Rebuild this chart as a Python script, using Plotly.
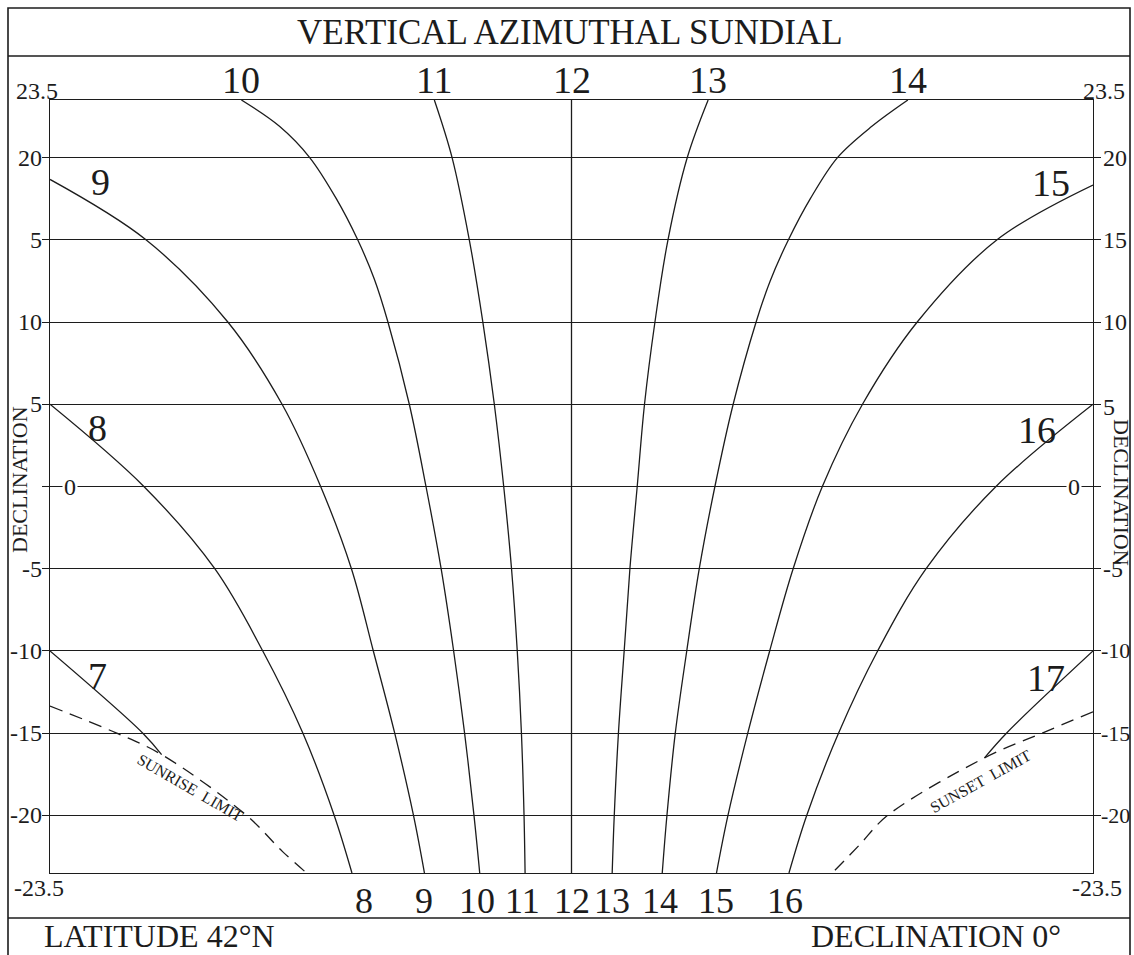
import plotly.graph_objects as go

# ---------------- data ----------------
# horizontal position on the dial: noon line = 0, dial edges = -100 / 100
# declination in degrees
H10_DECL = [23.5, 21.9, 20, 17.5, 15, 12.6, 10, 5, 0, -5, -10, -15, -20, -23.5]
H10_X = [-63.3, -56.0, -50.2, -45.1, -41.0, -37.8, -35.2, -31.1, -27.9, -25.0, -22.6, -20.5, -18.7, -17.6]
H14_DECL = [23.5, 21.9, 20, 17.5, 15, 12.5, 10, 5, 0, -5, -10, -15, -20, -23.5]
H14_X = [64.5, 57.6, 51.0, 45.8, 41.6, 38.1, 35.4, 31.0, 27.5, 24.5, 22.1, 19.9, 18.3, 17.4]

DECL_FULL = [23.5, 20, 15, 10, 5, 0, -5, -10, -15, -20, -23.5]
H11_X = [-26.3, -22.9, -19.6, -17.0, -14.8, -13.0, -11.5, -10.4, -9.6, -9.1, -8.9]
H12_X = [0, 0, 0, 0, 0, 0, 0, 0, 0, 0, 0]
H13_X = [26.2, 22.2, 18.5, 16.0, 14.0, 12.6, 11.2, 10.1, 9.0, 8.2, 7.8]

H9_DECL = [18.67, 15, 10, 5, 0, -5, -10, -15, -20, -23.5]
H9_X = [-100, -81.6, -65.9, -55.5, -48.1, -42.2, -38.0, -33.9, -30.3, -28.2]
H15_DECL = [18.33, 15, 10, 5, 0, -5, -10, -15, -20, -23.5]
H15_X = [100, 81.6, 66.3, 55.8, 48.1, 42.5, 38.0, 33.8, 30.0, 27.8]

H8_DECL = [5, 0, -5, -10, -15, -20, -23.5]
H8_X = [-100, -82.0, -68.4, -59.2, -51.5, -45.5, -42.1]
H16_DECL = [5, 0, -5, -10, -15, -20, -23.5]
H16_X = [100, 81.4, 68.0, 58.7, 51.2, 45.1, 41.7]

H7_DECL = [-10, -15, -16.3]
H7_X = [-100, -82.2, -78.6]
H17_DECL = [-10, -15, -16.5]
H17_X = [100, 83.4, 79.2]

SUNRISE_DECL = [-13.35, -15, -16.3, -20, -22.2, -23.5]
SUNRISE_X = [-100, -87.2, -78.6, -62.3, -55.4, -50.8]
SUNSET_DECL = [-13.7, -15, -16.5, -20, -21.8, -23.5]
SUNSET_X = [100, 90.2, 79.2, 60.6, 55.2, 50.0]

GRID_DECL = [20, 15, 10, 5, 0, -5, -10, -15, -20]

TOP_HOURS = ["10", "11", "12", "13", "14"]
BOTTOM_HOURS = ["8", "9", "10", "11", "12", "13", "14", "15", "16"]

LEFT_TICKS = ["23.5", "20", "5", "10", "5", "0", "-5", "-10", "-15", "-20", "-23.5"]
RIGHT_TICKS = ["23.5", "20", "15", "10", "5", "0", "-5", "-10", "-15", "-20", "-23.5"]
TICK_DECL = [23.5, 20, 15, 10, 5, 0, -5, -10, -15, -20, -23.5]

TITLE = "VERTICAL AZIMUTHAL SUNDIAL"
FOOT_LEFT = "LATITUDE 42°N"
FOOT_RIGHT = "DECLINATION 0°"

# ---------------- layout geometry ----------------
W, H = 1134, 955
PL, PR, PT, PB = 50, 1093, 100, 873   # plot area in pixels
INK = "#1c1c1c"
FONT = "Liberation Serif"


def fx(px):
    return (px - PL) / (PR - PL)


def fy(py):
    return (PB - py) / (PB - PT)


def txt(text, px, py, size, xanchor="center", **kw):
    d = dict(text=text, xref="paper", yref="paper", x=fx(px), y=fy(py),
             xanchor=xanchor, yanchor="middle", showarrow=False,
             font=dict(family=FONT, size=size, color=INK))
    d.update(kw)
    return d


fig = go.Figure()

lines = [
    (H10_X, H10_DECL), (H11_X, DECL_FULL), (H12_X, DECL_FULL),
    (H13_X, DECL_FULL), (H14_X, H14_DECL),
    (H9_X, H9_DECL), (H15_X, H15_DECL),
    (H8_X, H8_DECL), (H16_X, H16_DECL),
    (H7_X, H7_DECL), (H17_X, H17_DECL),
]
for xs, ys in lines:
    fig.add_trace(go.Scatter(
        x=xs, y=ys, mode="lines",
        line=dict(color=INK, width=1.3, shape="spline", smoothing=1.0),
        hoverinfo="skip", showlegend=False))

for xs, ys in [(SUNRISE_X, SUNRISE_DECL), (SUNSET_X, SUNSET_DECL)]:
    fig.add_trace(go.Scatter(
        x=xs, y=ys, mode="lines",
        line=dict(color=INK, width=1.3, shape="spline", smoothing=1.0,
                  dash="13px,8px"),
        hoverinfo="skip", showlegend=False))

ann = []

# title and footer
ann.append(txt(TITLE, 570, 33, 35))
ann.append(txt(FOOT_LEFT, 42, 936, 32, xanchor="left"))
ann.append(txt(FOOT_RIGHT, 1063, 936, 32, xanchor="right"))

# hour labels at the top / bottom of the hour lines
top_x = [H10_X[0], H11_X[0], H12_X[0], H13_X[0], H14_X[0]]
for t, xv in zip(TOP_HOURS, top_x):
    ann.append(dict(text=t, x=xv, xref="x", yref="paper", y=fy(80),
                    xanchor="center", yanchor="middle", showarrow=False,
                    font=dict(family=FONT, size=38, color=INK)))
bot_x = [H8_X[-1], H9_X[-1], H10_X[-1], H11_X[-1], H12_X[-1],
         H13_X[-1], H14_X[-1], H15_X[-1], H16_X[-1]]
bot_shift = [12, 0, -3, -3, 0, 0, -2, 0, -4]
for t, xv, s in zip(BOTTOM_HOURS, bot_x, bot_shift):
    ann.append(dict(text=t, x=xv, xref="x", yref="paper", y=fy(901), xshift=s,
                    xanchor="center", yanchor="middle", showarrow=False,
                    font=dict(family=FONT, size=36, color=INK)))

# hour labels along the side edges
side = [("9", 100, 182), ("8", 97, 428), ("7", 97, 676),
        ("15", 1051, 183), ("16", 1037, 430), ("17", 1046, 678)]
for t, px, py in side:
    ann.append(txt(t, px, py, 38))

# declination tick labels
TS = 24
for t, d in zip(LEFT_TICKS, TICK_DECL):
    a = dict(text=t, xref="paper", yref="y", y=d, showarrow=False,
             yanchor="middle", font=dict(family=FONT, size=TS, color=INK))
    if d == 23.5:
        a.update(x=fx(37), xanchor="center", yshift=9)
    elif d == -23.5:
        a.update(x=fx(39), xanchor="center", yshift=-15)
    elif d == 0:
        a.update(x=fx(70), xanchor="center", bgcolor="white")
    else:
        a.update(x=fx(44), xanchor="right")
    ann.append(a)
for t, d in zip(RIGHT_TICKS, TICK_DECL):
    a = dict(text=t, xref="paper", yref="y", y=d, showarrow=False,
             yanchor="middle", font=dict(family=FONT, size=TS, color=INK))
    if d == 23.5:
        a.update(x=fx(1104), xanchor="center", yshift=9)
    elif d == -23.5:
        a.update(x=fx(1097), xanchor="center", yshift=-15)
    elif d == 0:
        a.update(x=fx(1074), xanchor="center", bgcolor="white")
    elif d == 5:
        a.update(x=fx(1101), xanchor="left", yshift=-3)
    elif d < -5:
        a.update(x=fx(1099), xanchor="left")
        a["font"]["size"] = 22
    else:
        a.update(x=fx(1101), xanchor="left")
    ann.append(a)

# axis names
ann.append(txt("DECLINATION", 19, 480, 22, textangle=-90))
ann.append(txt("DECLINATION", 1122, 492, 22, textangle=90))

# limit curve labels
ann.append(txt("SUNRISE  LIMIT", 190, 787, 16, textangle=30))
ann.append(txt("SUNSET  LIMIT", 980, 781, 16, textangle=-29))

shapes = [
    # outer frame
    dict(type="rect", xref="paper", yref="paper", x0=fx(8), x1=fx(1130),
         y0=fy(990), y1=fy(8), line=dict(color=INK, width=1.6)),
    # title separator
    dict(type="line", xref="paper", yref="paper", x0=fx(8), x1=fx(1130),
         y0=fy(56), y1=fy(56), line=dict(color=INK, width=1.6)),
    # footer separator
    dict(type="line", xref="paper", yref="paper", x0=fx(8), x1=fx(1130),
         y0=fy(918), y1=fy(918), line=dict(color=INK, width=1.6)),
]

fig.update_layout(
    width=W, height=H,
    margin=dict(l=PL, r=W - PR, t=PT, b=H - PB, pad=0),
    paper_bgcolor="white", plot_bgcolor="white",
    showlegend=False,
    annotations=ann, shapes=shapes,
    xaxis=dict(range=[-100, 100], showgrid=False, zeroline=False,
               showticklabels=False, ticks="", showline=True, mirror=True,
               linecolor=INK, linewidth=1.4, fixedrange=True),
    yaxis=dict(range=[-23.5, 23.5], tickvals=GRID_DECL, showticklabels=False,
               ticks="outside", ticklen=7, tickcolor=INK, tickwidth=1,
               showgrid=True, gridcolor=INK, gridwidth=1, zeroline=False,
               showline=True, mirror="ticks", linecolor=INK, linewidth=1.4,
               fixedrange=True),
)

# place the figure at the page's top-left corner (no default body margin)
fig.write_html("out.html",
               config={"displayModeBar": False},
               post_script="document.body.style.margin='0';"
                           "document.body.style.overflow='hidden';")
